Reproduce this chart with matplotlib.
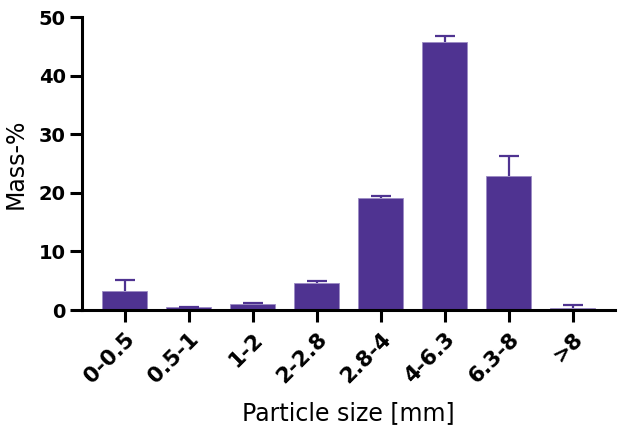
import numpy as np
from matplotlib import pyplot as plt

sizes = ['0-0.5', '0.5-1', '1-2', '2-2.8', '2.8-4', '4-6.3', '6.3-8', '>8']
mass = [3.25, 0.45, 1.0, 4.7, 19.2, 45.8, 22.9, 0.35]
err_up = [1.85, 0.05, 0.25, 0.2, 0.25, 1.0, 3.35, 0.45]

purple = '#4F3391'

fig = plt.figure(figsize=(6.2, 4.3), dpi=100)
ax = fig.add_axes([0.132, 0.279, 0.86, 0.681])

x = np.arange(len(sizes))
mass = np.array(mass)
err_up = np.array(err_up)
ax.bar(x, mass, width=0.7, color=purple, edgecolor='#9C8BC4', linewidth=0.6, zorder=2)
# upper error bars only, no cap on the bar top
tops = mass + err_up
ax.vlines(x, mass, tops, color=purple, linewidth=1.6, zorder=3)
ax.hlines(tops, x - 0.155, x + 0.155, color=purple, linewidth=1.6, zorder=3)

ax.set_xlim(-0.67, 7.66)
ax.set_ylim(0, 50)
ax.set_yticks([0, 10, 20, 30, 40, 50])
ax.set_xticks(x)
ax.set_xticklabels(sizes, rotation=45, ha='right', rotation_mode='anchor',
                   fontsize=15.5, fontweight='bold')
for t in ax.get_yticklabels():
    t.set_fontsize(14)
    t.set_fontweight('bold')

for s in ['top', 'right']:
    ax.spines[s].set_visible(False)
for s in ['left', 'bottom']:
    ax.spines[s].set_linewidth(2.2)
ax.tick_params(axis='both', length=8.5, width=2.2, pad=3)
ax.tick_params(axis='x', pad=5)

ax.set_ylabel('Mass-%', fontsize=17, labelpad=8)
ax.set_xlabel('Particle size [mm]', fontsize=17, labelpad=10)

fig.savefig('out.png', dpi=100)
